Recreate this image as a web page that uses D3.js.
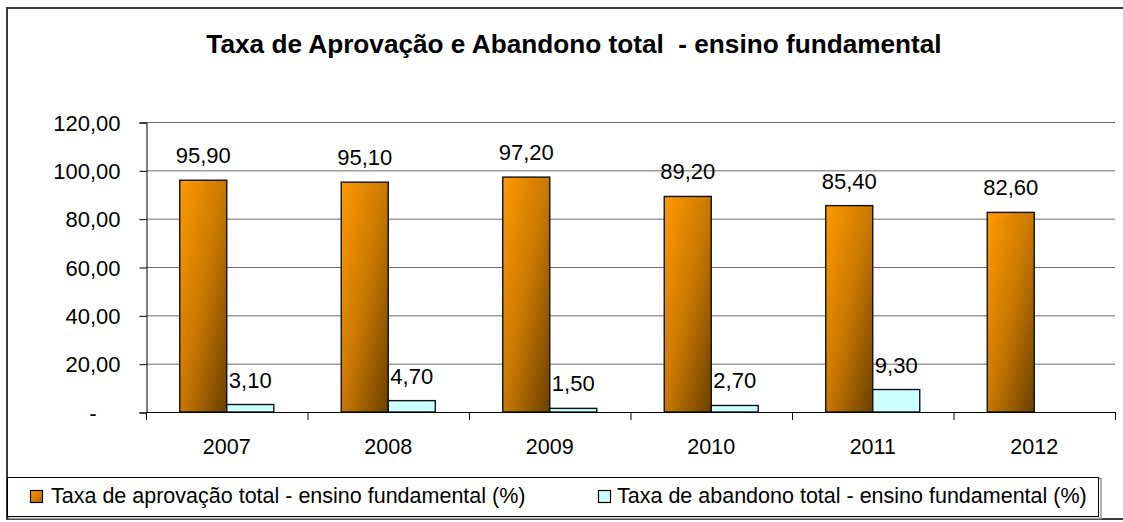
<!DOCTYPE html>
<html>
<head>
<meta charset="utf-8">
<script src="https://cdn.jsdelivr.net/npm/d3@7"></script>
<style>
  html, body { margin: 0; padding: 0; background: #fff; }
  svg { display: block; font-family: "Liberation Sans", Arial, sans-serif; }
</style>
</head>
<body>
<svg id="chart" width="1123" height="522"></svg>
<script>
const title = "Taxa de Aprovação e Abandono total  - ensino fundamental";
const years = ["2007", "2008", "2009", "2010", "2011", "2012"];
const aprovacao = [95.90, 95.10, 97.20, 89.20, 85.40, 82.60];
const abandono = [3.10, 4.70, 1.50, 2.70, 9.30, null];
const seriesNames = ["Taxa de aprovação total - ensino fundamental (%)",
                     "Taxa de abandono total - ensino fundamental (%)"];
const yTicks = [0, 20, 40, 60, 80, 100, 120];

const svg = d3.select("#chart");
const W = 1123, H = 522;
const plot = { left: 146, right: 1115, top: 122, bottom: 412 };

// gradients
const defs = svg.append("defs");
const grad = defs.append("linearGradient").attr("id", "orangeGrad")
  .attr("x1", 0).attr("y1", 0).attr("x2", 1).attr("y2", 1);
grad.append("stop").attr("offset", "0%").attr("stop-color", "#FF9A00");
grad.append("stop").attr("offset", "50%").attr("stop-color", "#C97800");
grad.append("stop").attr("offset", "100%").attr("stop-color", "#6A4000");
const gradL = defs.append("linearGradient").attr("id", "orangeGradL")
  .attr("x1", 0).attr("y1", 0).attr("x2", 1).attr("y2", 1);
gradL.append("stop").attr("offset", "0%").attr("stop-color", "#FF9A00");
gradL.append("stop").attr("offset", "100%").attr("stop-color", "#B06800");

// outer border
svg.append("rect").attr("x", 7).attr("y", 8).attr("width", W + 10).attr("height", 511)
  .attr("fill", "#fff").attr("stroke", "#3a3a3a").attr("stroke-width", 2);

// title
svg.append("text").attr("x", 574).attr("y", 53).attr("text-anchor", "middle")
  .attr("font-size", 26.2).attr("font-weight", "bold").attr("fill", "#000")
  .style("white-space", "pre").attr("xml:space", "preserve")
  .text(title);

const y = d3.scaleLinear().domain([0, 120]).range([plot.bottom, plot.top]);
const x0 = d3.scaleBand().domain(years).range([plot.left, plot.right]).paddingInner(0).paddingOuter(0);
const x1 = d3.scaleBand().domain(["aprov", "aband"]).range([0, x0.bandwidth()]).paddingInner(0).paddingOuter(0.718);

const fmt = v => d3.format(".2f")(v).replace(".", ",");

// gridlines
svg.append("g").selectAll("line").data(yTicks.filter(d => d > 0)).join("line")
  .attr("x1", plot.left).attr("x2", plot.right)
  .attr("y1", d => y(d) + 0.5).attr("y2", d => y(d) + 0.5)
  .attr("stroke", "#6e6e6e").attr("stroke-width", 1);

// y axis
const yAxis = d3.axisLeft(y).tickValues(yTicks).tickSize(7).tickPadding(19)
  .tickFormat(d => d === 0 ? "-" : fmt(d));
const gy = svg.append("g").attr("transform", `translate(${plot.left + 0.5},0.5)`).call(yAxis);
gy.select(".domain").attr("stroke", "#000");
gy.selectAll(".tick line").attr("stroke", "#000");
gy.selectAll(".tick text").attr("font-size", 22).attr("fill", "#000")
  .attr("font-family", "Liberation Sans, Arial, sans-serif").attr("dy", "0.35em")
  .attr("dx", d => d === 0 ? -24 : 0);

// bars
const groups = svg.append("g").selectAll("g").data(years).join("g")
  .attr("transform", d => `translate(${x0(d)},0)`);

groups.append("rect")
  .attr("x", x1("aprov"))
  .attr("y", (d, i) => y(aprovacao[i]))
  .attr("width", x1.bandwidth())
  .attr("height", (d, i) => y(0) - y(aprovacao[i]))
  .attr("fill", "url(#orangeGrad)").attr("stroke", "#111").attr("stroke-width", 1.4);

groups.filter((d, i) => abandono[i] != null).append("rect")
  .attr("x", x1("aband"))
  .attr("y", d => y(abandono[years.indexOf(d)]))
  .attr("width", x1.bandwidth())
  .attr("height", d => y(0) - y(abandono[years.indexOf(d)]))
  .attr("fill", "#CCFFFF").attr("stroke", "#111").attr("stroke-width", 1.4);

// value labels
groups.append("text")
  .attr("x", x1("aprov") + x1.bandwidth() / 2)
  .attr("y", (d, i) => y(aprovacao[i]) - 17)
  .attr("text-anchor", "middle").attr("font-size", 22).attr("fill", "#000")
  .text((d, i) => fmt(aprovacao[i]));
groups.filter((d, i) => abandono[i] != null).append("text")
  .attr("x", x1("aband") + x1.bandwidth() / 2)
  .attr("y", d => y(abandono[years.indexOf(d)]) - 17)
  .attr("text-anchor", "middle").attr("font-size", 22).attr("fill", "#000")
  .text(d => fmt(abandono[years.indexOf(d)]));

// x axis
svg.append("line").attr("x1", plot.left).attr("x2", plot.right)
  .attr("y1", y(0) + 0.5).attr("y2", y(0) + 0.5).attr("stroke", "#000");
const xBounds = years.map(d => x0(d)).concat([plot.right]);
svg.append("g").selectAll("line").data(xBounds).join("line")
  .attr("x1", d => d + 0.5).attr("x2", d => d + 0.5)
  .attr("y1", y(0)).attr("y2", y(0) + 8).attr("stroke", "#000");
svg.append("g").selectAll("text").data(years).join("text")
  .attr("x", d => x0(d) + x0.bandwidth() / 2).attr("y", 454)
  .attr("text-anchor", "middle").attr("font-size", 21.5).attr("fill", "#000")
  .text(d => d);

// legend
svg.append("rect").attr("x", 9).attr("y", 478.5).attr("width", 1092).attr("height", 40)
  .attr("fill", "none").attr("stroke", "#999").attr("stroke-width", 1.5);
svg.append("rect").attr("x", 7.5).attr("y", 477.5).attr("width", 1091).attr("height", 39)
  .attr("fill", "#fff").attr("stroke", "#000").attr("stroke-width", 1);

const legendItems = [
  { name: seriesNames[0], fill: "url(#orangeGradL)", mx: 30, tx: 51 },
  { name: seriesNames[1], fill: "#CCFFFF", mx: 598, tx: 617 }
];
const lg = svg.append("g").selectAll("g").data(legendItems).join("g");
lg.append("rect").attr("x", d => d.mx + 0.5).attr("y", 490.5).attr("width", 12).attr("height", 12)
  .attr("fill", d => d.fill).attr("stroke", "#000").attr("stroke-width", 1.2);
lg.append("text").attr("x", d => d.tx).attr("y", 503).attr("font-size", 21.5).attr("fill", "#000")
  .text(d => d.name);
</script>
</body>
</html>
